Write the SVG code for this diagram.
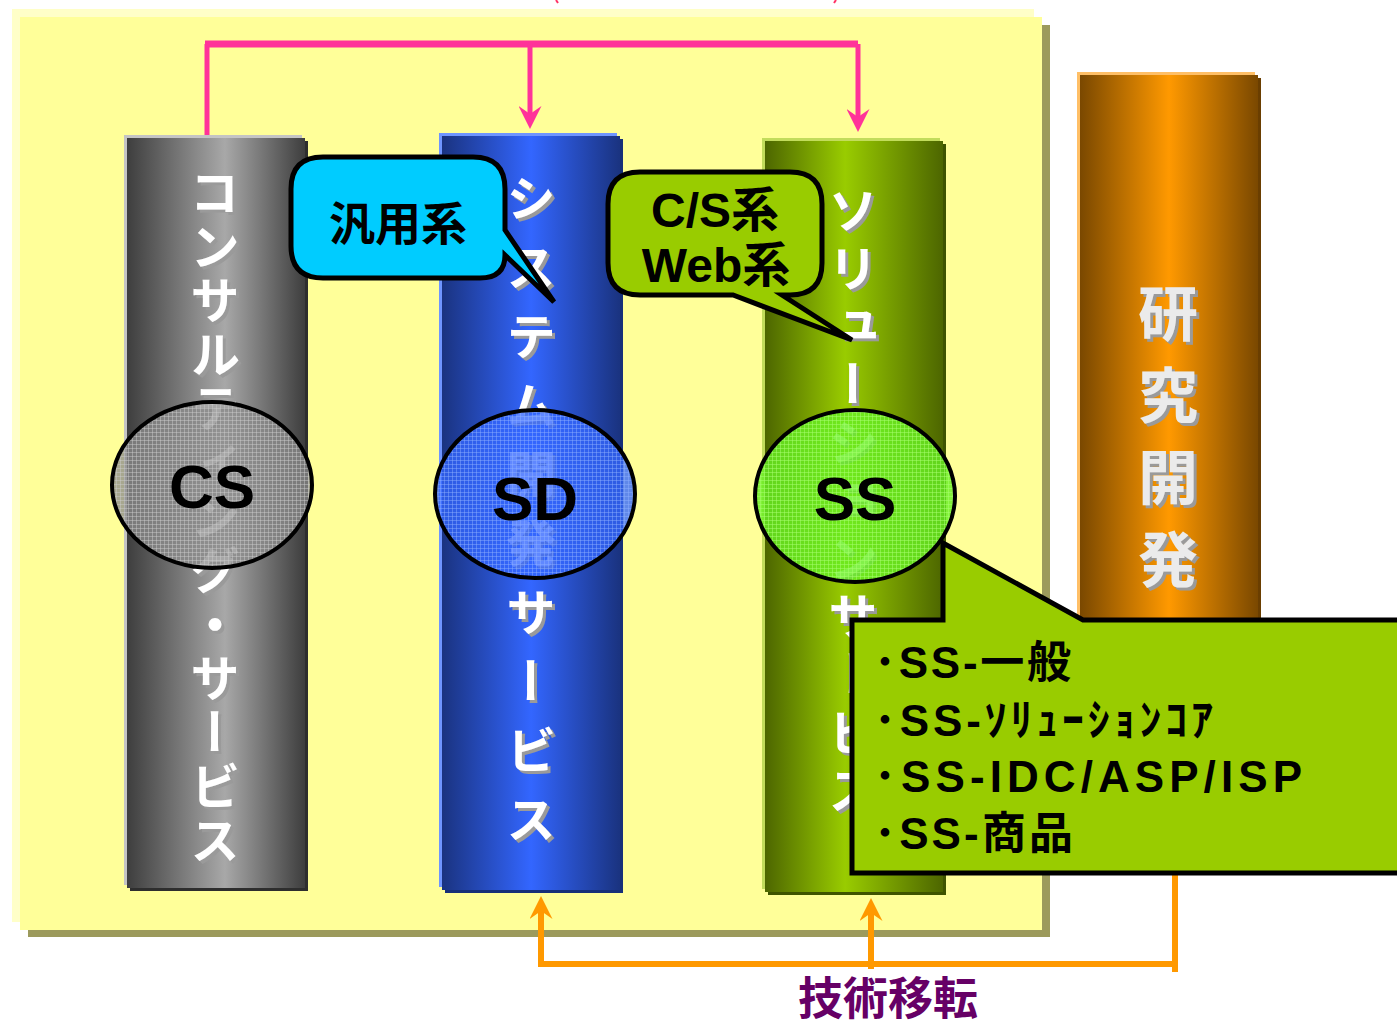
<svg xmlns="http://www.w3.org/2000/svg" width="1397" height="1027" viewBox="0 0 1397 1027">
<defs>
<style>
.ptext{font-family:"Noto Sans CJK JP","Noto Sans CJK SC",sans-serif;font-weight:bold;font-size:50px;fill:#ffffff;writing-mode:vertical-rl;filter:url(#sh)}
.rtext{font-family:"Noto Sans CJK JP","Noto Sans CJK SC",sans-serif;font-weight:bold;font-size:60px;fill:#ebebeb;writing-mode:vertical-rl;letter-spacing:22px;filter:url(#sh)}
.lab{font-family:"Liberation Sans","Noto Sans CJK JP",sans-serif;font-weight:bold;fill:#000000;text-anchor:middle}
.bt{font-family:"Liberation Sans","Noto Sans CJK JP",sans-serif;font-weight:bold;font-size:44px;fill:#000000}
.co{stroke:#000000;stroke-width:5;stroke-linejoin:miter}
.ell{stroke:#000000;stroke-width:4}
.pink{stroke:#FF3399;fill:none}
.orng{stroke:#FF9900;fill:none;stroke-width:6}
</style>
<filter id="sh" x="-20%" y="-5%" width="140%" height="110%">
<feDropShadow dx="3" dy="3" stdDeviation="0" flood-color="#9a9a9a" flood-opacity="1"/>
</filter>
<linearGradient id="gGray" x1="0" y1="0" x2="1" y2="0">
<stop offset="0" stop-color="#3e3e3e"/><stop offset="0.55" stop-color="#a8a8a8"/><stop offset="1" stop-color="#3e3e3e"/>
</linearGradient>
<linearGradient id="gBlue" x1="0" y1="0" x2="1" y2="0">
<stop offset="0" stop-color="#1a3380"/><stop offset="0.5" stop-color="#3366ff"/><stop offset="1" stop-color="#1a3380"/>
</linearGradient>
<linearGradient id="gGreen" x1="0" y1="0" x2="1" y2="0">
<stop offset="0" stop-color="#4d6600"/><stop offset="0.45" stop-color="#99cc00"/><stop offset="1" stop-color="#4d6600"/>
</linearGradient>
<linearGradient id="gOrange" x1="0" y1="0" x2="1" y2="0">
<stop offset="0" stop-color="#7a4800"/><stop offset="0.5" stop-color="#ff9900"/><stop offset="1" stop-color="#7a4800"/>
</linearGradient>
<pattern id="hGray" width="4" height="4" patternUnits="userSpaceOnUse">
<rect width="4" height="4" fill="#8c8c8c" fill-opacity="0.76"/><path d="M0,0.5H4M0.5,0V4" stroke="#cfcfcf" stroke-opacity="0.45" stroke-width="1"/>
</pattern>
<pattern id="hBlue" width="4" height="4" patternUnits="userSpaceOnUse">
<rect width="4" height="4" fill="#3366ff" fill-opacity="0.78"/><path d="M0,0.5H4M0.5,0V4" stroke="#8fb0ff" stroke-opacity="0.45" stroke-width="1"/>
</pattern>
<pattern id="hGreen" width="4" height="4" patternUnits="userSpaceOnUse">
<rect width="4" height="4" fill="#66ee22" fill-opacity="0.82"/><path d="M0,0.5H4M0.5,0V4" stroke="#a8ff70" stroke-opacity="0.5" stroke-width="1"/>
</pattern>
<marker id="aPink" viewBox="0 0 23 23" refX="8" refY="11.5" markerWidth="23" markerHeight="23" markerUnits="userSpaceOnUse" orient="auto">
<path d="M0,0 L23,11.5 L0,23 L8,11.5 Z" fill="#FF3399"/>
</marker>
<marker id="aOrange" viewBox="0 0 23 23" refX="8" refY="11.5" markerWidth="23" markerHeight="23" markerUnits="userSpaceOnUse" orient="auto">
<path d="M0,0 L23,11.5 L0,23 L8,11.5 Z" fill="#FF9900"/>
</marker>
</defs>

<rect width="1397" height="1027" fill="#ffffff"/>

<g id="background">
<rect x="12" y="9" width="1022" height="913" fill="#ffffc8"/>
<rect x="28" y="25" width="1022" height="912" fill="#9c9a5c"/>
<rect x="20" y="17" width="1022" height="913" fill="#ffff99"/>
</g>

<g id="top-fragments">
<path d="M556,0 L558,3" stroke="#FF3366" stroke-width="2"/>
<path d="M836,0 L834,3" stroke="#FF3366" stroke-width="2"/>
</g>

<g id="pillar-cs">
<rect x="124" y="135" width="178" height="750" fill="#c4c4c4"/>
<rect x="130" y="141" width="178" height="750" fill="#2e2e2e"/>
<rect x="127" y="138" width="178" height="750" fill="url(#gGray)"/>
<text class="ptext" x="215" y="167" style="letter-spacing:4px">コンサルティング・サービス</text>
</g>

<g id="pillar-sd">
<rect x="439" y="133" width="178" height="754" fill="#6f95ff"/>
<rect x="445" y="139" width="178" height="754" fill="#173078"/>
<rect x="442" y="136" width="178" height="754" fill="url(#gBlue)"/>
<text class="ptext" x="531" y="173" style="letter-spacing:19px">システム開発サービス</text>
</g>

<g id="pillar-ss">
<rect x="762" y="138" width="178" height="751" fill="#c2dc5c"/>
<rect x="768" y="144" width="178" height="751" fill="#3f5400"/>
<rect x="765" y="141" width="178" height="751" fill="url(#gGreen)"/>
<text class="ptext" x="853" y="185" style="letter-spacing:8px">ソリューションサービス</text>
</g>

<g id="pillar-rd">
<rect x="1077" y="72" width="178" height="740" fill="#ffbf66"/>
<rect x="1083" y="78" width="178" height="740" fill="#6a3e00"/>
<rect x="1080" y="75" width="178" height="740" fill="url(#gOrange)"/>
<text class="rtext" x="1168" y="283">研究開発</text>
</g>

<g id="connectors">
<path class="pink" d="M207,135 V44" stroke-width="5"/>
<path class="pink" d="M205,44 H858" stroke-width="7"/>
<path class="pink" d="M530,44 V114" stroke-width="5" marker-end="url(#aPink)"/>
<path class="pink" d="M858,44 V117" stroke-width="5" marker-end="url(#aPink)"/>
<path class="orng" d="M1175,873 V972"/>
<path class="orng" d="M538,964 H1178"/>
<path class="orng" d="M541,964 V911" marker-end="url(#aOrange)"/>
<path class="orng" d="M871,969 V913" marker-end="url(#aOrange)"/>
</g>

<g id="node-cs">
<ellipse class="ell" cx="212" cy="485" rx="100" ry="83" fill="url(#hGray)"/>
<text class="lab" x="212" y="508" font-size="62">CS</text>
</g>

<g id="node-sd">
<ellipse class="ell" cx="535" cy="494" rx="100" ry="84" fill="url(#hBlue)"/>
<text class="lab" x="535" y="520" font-size="62">SD</text>
</g>

<g id="node-ss">
<ellipse class="ell" cx="855" cy="496" rx="100" ry="86" fill="url(#hGreen)"/>
<text class="lab" x="855" y="520" font-size="62">SS</text>
</g>

<g id="callout-general">
<path class="co" fill="#00ccff" d="M323,157 H473 Q505,157 505,189 V230 L554,302 L505,255 Q505,278 480,278 H323 Q291,278 291,246 V189 Q291,157 323,157 Z"/>
<text class="lab" x="398" y="240" font-size="46">汎用系</text>
</g>

<g id="callout-csweb">
<path class="co" fill="#99cc00" d="M640,172 H790 Q822,172 822,204 V263 Q822,295 790,295 H782 L852,340 L733,295 H640 Q608,295 608,263 V204 Q608,172 640,172 Z"/>
<text class="lab" x="715" y="227" font-size="48">C/S系</text>
<text class="lab" x="716" y="282" font-size="48">Web系</text>
</g>

<g id="callout-ss-list">
<path class="co" fill="#99cc00" d="M852,620 H943 V543 L1083,620 H1405 V873 H852 Z"/>
<text class="bt" x="874" y="678" textLength="197" lengthAdjust="spacing">･SS-一般</text>
<text class="bt" x="874" y="736" textLength="339" lengthAdjust="spacing">･SS-ｿﾘｭｰｼｮﾝｺｱ</text>
<text class="bt" x="874" y="792" textLength="428" lengthAdjust="spacing">･SS-IDC/ASP/ISP</text>
<text class="bt" x="874" y="849" textLength="199" lengthAdjust="spacing">･SS-商品</text>
</g>

<g id="label-transfer">
<text x="888" y="1015" font-family="'Noto Sans CJK JP','Noto Sans CJK SC',sans-serif" font-weight="bold" font-size="45" fill="#660066" text-anchor="middle">技術移転</text>
</g>
</svg>
